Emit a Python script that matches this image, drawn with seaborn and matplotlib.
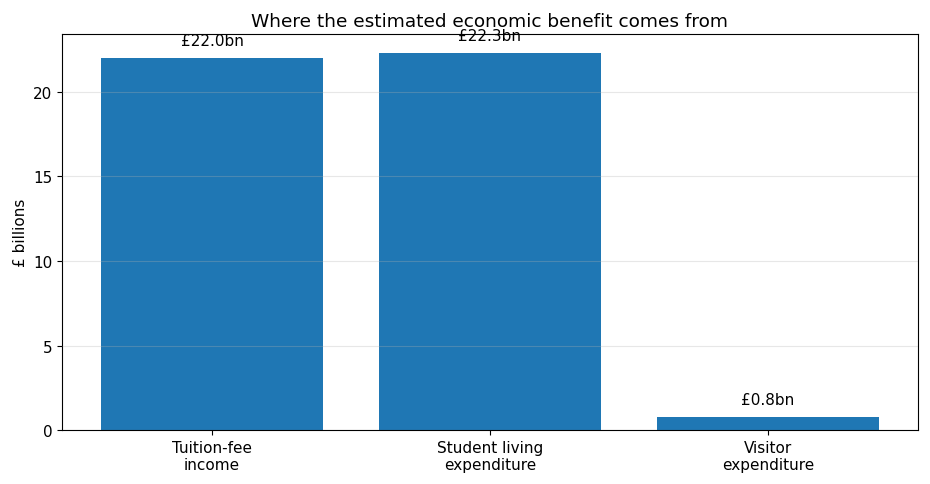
import matplotlib
matplotlib.use("Agg")
import matplotlib.pyplot as plt
import pandas as pd
import seaborn as sns

categories = ["Tuition-fee\nincome", "Student living\nexpenditure", "Visitor\nexpenditure"]
values = [22.0, 22.3, 0.8]
labels = ["£22.0bn", "£22.3bn", "£0.8bn"]

df = pd.DataFrame({"Source": categories, "Value": values})

plt.rcParams["font.family"] = ["DejaVu Sans"]

fig, ax = plt.subplots(figsize=(9.3, 4.85), dpi=100)
sns.barplot(data=df, x="Source", y="Value", color="#1f77b4", saturation=1, width=0.8, ax=ax)

for bar, text in zip(ax.patches, labels):
    ax.annotate(text, (bar.get_x() + bar.get_width() / 2, bar.get_height()),
                xytext=(0, 7), textcoords="offset points", ha="center", va="bottom", fontsize=11)

ax.set_title("Where the estimated economic benefit comes from", fontsize=13.3)
ax.set_xlabel("")
ax.set_ylabel("£ billions", fontsize=11)
ax.tick_params(labelsize=11)
ax.set_xlim(-0.54, 2.54)
ax.set_ylim(0, 23.415)
ax.grid(axis="y", alpha=0.3)
ax.set_axisbelow(False)

fig.subplots_adjust(left=0.0667, right=0.987, top=0.928, bottom=0.111)
fig.savefig("out.png")
